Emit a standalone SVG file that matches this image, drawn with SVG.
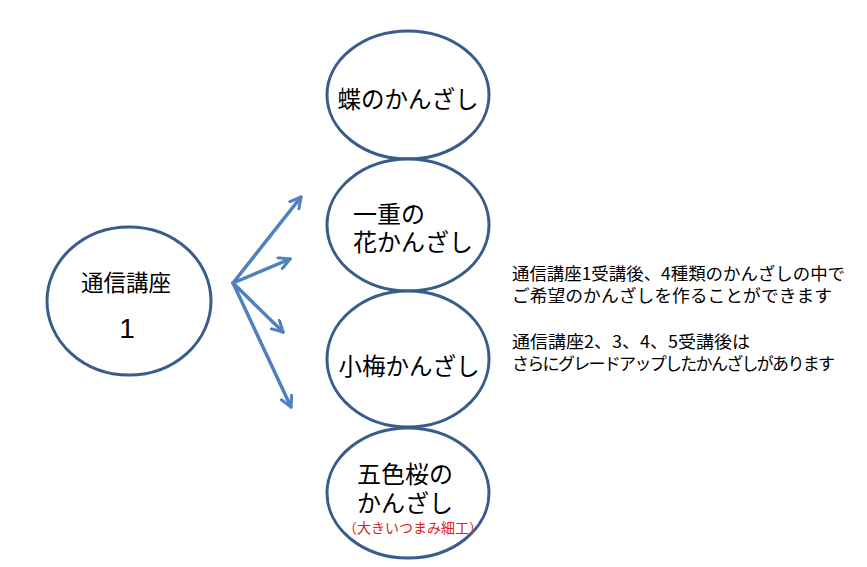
<svg xmlns="http://www.w3.org/2000/svg" width="867" height="567" viewBox="0 0 867 567">
<defs>
<marker id="ah" viewBox="0 0 14 14" refX="12" refY="7" markerWidth="14" markerHeight="14" markerUnits="userSpaceOnUse" orient="auto">
<path d="M1,1 L12,7 L1,13" fill="none" stroke="#4f81bd" stroke-width="3" stroke-linecap="round" stroke-linejoin="round"/>
</marker>
<style>
.node{fill:#ffffff;stroke:#385d8a;stroke-width:3}
.t{font-family:"Noto Sans CJK JP","Noto Sans CJK SC",sans-serif;fill:#000000}
.conn{stroke:#4f81bd;stroke-width:3.5;fill:none;stroke-linecap:round;marker-end:url(#ah)}
</style>
</defs>
<rect width="867" height="567" fill="#ffffff"/>
<g id="n-course1">
<ellipse class="node" cx="129" cy="301" rx="82" ry="74"/>
<text class="t" x="126" y="291" font-size="22.5" text-anchor="middle">通信講座</text>
<text x="127" y="338" font-size="28" text-anchor="middle" font-family="Liberation Sans, Arial, sans-serif">1</text>
</g>
<g id="n-chou">
<ellipse class="node" cx="408" cy="95" rx="81" ry="64"/>
<text class="t" x="408" y="108" font-size="23.5" text-anchor="middle">蝶のかんざし</text>
</g>
<g id="n-hitoe">
<ellipse class="node" cx="408" cy="225" rx="81" ry="66"/>
<text class="t" x="353" y="223" font-size="24">一重の</text>
<text class="t" x="353" y="251" font-size="24">花かんざし</text>
</g>
<g id="n-koume">
<ellipse class="node" cx="408" cy="359" rx="81" ry="68"/>
<text class="t" x="409" y="375" font-size="23.5" text-anchor="middle">小梅かんざし</text>
</g>
<g id="n-goshiki">
<ellipse class="node" cx="408" cy="493" rx="81" ry="65"/>
<text class="t" x="357" y="483" font-size="24">五色桜の</text>
<text class="t" x="357" y="512" font-size="24">かんざし</text>
<text class="t" x="413" y="533" font-size="14" text-anchor="middle" style="fill:#e02020">（大きいつまみ細工）</text>
</g>
<g id="connectors">
<line class="conn" x1="233" y1="283" x2="301" y2="197"/>
<line class="conn" x1="233" y1="283" x2="290" y2="259"/>
<line class="conn" x1="233" y1="283" x2="283" y2="332"/>
<line class="conn" x1="233" y1="283" x2="291" y2="407"/>
</g>
<g id="note">
<text class="t" x="512" y="280" font-size="17" textLength="333" lengthAdjust="spacingAndGlyphs">通信講座1受講後、4種類のかんざしの中で</text>
<text class="t" x="512" y="302" font-size="17" textLength="320" lengthAdjust="spacingAndGlyphs">ご希望のかんざしを作ることができます</text>
<text class="t" x="512" y="348" font-size="17" textLength="238" lengthAdjust="spacingAndGlyphs">通信講座2、3、4、5受講後は</text>
<text class="t" x="512" y="370" font-size="17" letter-spacing="-1.7">さらにグレードアップしたかんざしがあります</text>
</g>
</svg>
